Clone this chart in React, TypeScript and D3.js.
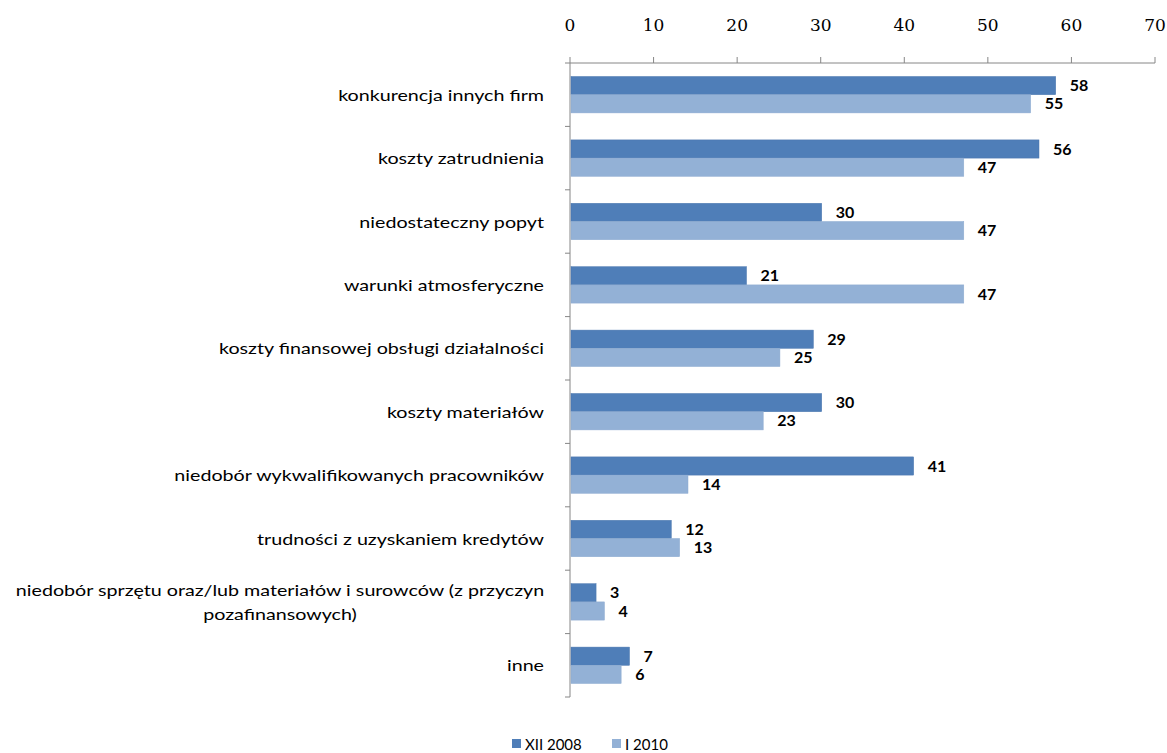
import React from "react";
import * as d3 from "d3";

const categories = [
  "konkurencja innych firm",
  "koszty zatrudnienia",
  "niedostateczny popyt",
  "warunki atmosferyczne",
  "koszty finansowej obsługi działalności",
  "koszty materiałów",
  "niedobór wykwalifikowanych pracowników",
  "trudności z uzyskaniem kredytów",
  "niedobór sprzętu oraz/lub materiałów i surowców (z przyczyn|pozafinansowych)",
  "inne",
];
const seriesXII2008 = [58, 56, 30, 21, 29, 30, 41, 12, 3, 7];
const seriesI2010 = [55, 47, 47, 47, 25, 23, 14, 13, 4, 6];
const seriesNames = ["XII 2008", "I 2010"];
const xTicks = [0, 10, 20, 30, 40, 50, 60, 70];

const colors = ["#4F7EB8", "#93B1D6"];
const W = 1167;
const H = 753;
const left = 570;
const right = 1155;
const top = 63;
const bottom = 697;
const labelFont = "Lato, 'Open Sans', sans-serif";
const tickFont = "'DejaVu Serif', 'Liberation Serif', serif";
const SX = 1.23;

function Stretch({ x, y, children }: { x: number; y: number; children: React.ReactNode }) {
  return <g transform={`translate(${x},${y}) scale(${SX},1)`}>{children}</g>;
}

export default function App() {
  const x = d3.scaleLinear().domain([0, 70]).range([left, right]);
  const y = d3
    .scaleBand<number>()
    .domain(d3.range(categories.length))
    .range([top, bottom])
    .paddingInner(27 / 63.4)
    .paddingOuter(13.5 / 63.4);
  const bw = y.bandwidth() / 2;
  const step = y.step();
  const series = [seriesXII2008, seriesI2010];

  return (
    <svg
      width={W}
      height={H}
      style={{ position: "absolute", left: 0, top: 0, background: "#fff" }}
    >
      {/* top axis */}
      <line x1={left} x2={right} y1={top} y2={top} stroke="#868686" strokeWidth={1} />
      {xTicks.map((t) => (
        <g key={t}>
          <line x1={x(t)} x2={x(t)} y1={top - 6} y2={top} stroke="#868686" />
          <text
            x={x(t)}
            y={31}
            textAnchor="middle"
            fontFamily={tickFont}
            fontSize={17}
            fill="#000"
          >
            {t}
          </text>
        </g>
      ))}
      {/* left axis */}
      <line x1={left} x2={left} y1={top} y2={bottom} stroke="#868686" />
      {d3.range(categories.length + 1).map((i) => {
        const yy = top + i * step;
        return <line key={i} x1={left - 5} x2={left} y1={yy} y2={yy} stroke="#868686" />;
      })}
      {/* bars */}
      {categories.map((c, i) =>
        series.map((s, k) => {
          const y0 = (y(i) as number) + k * bw;
          return (
            <g key={`${i}-${k}`}>
              <rect
                x={x(0) + 1}
                y={y0}
                width={x(s[i]) - x(0)}
                height={bw}
                fill={colors[k]}
                stroke={k === 0 ? "#4A76AE" : "#8CAAD0"}
                strokeWidth={0.5}
              />
              <text
                x={x(s[i]) + 15}
                y={y0 + bw / 2 + 5.5}
                fontFamily={labelFont}
                fontWeight="bold"
                fontSize={16}
                fill="#000"
              >
                {s[i]}
              </text>
            </g>
          );
        })
      )}
      {/* category labels */}
      {categories.map((c, i) => {
        const cy = (y(i) as number) + bw;
        const lines = c.split("|");
        if (lines.length === 1) {
          return (
            <Stretch key={c} x={544} y={cy + 6}>
              <text textAnchor="end" fontFamily={labelFont} fontSize={16} fill="#000">
                {c}
              </text>
            </Stretch>
          );
        }
        return (
          <Stretch key={c} x={280} y={cy}>
            <text textAnchor="middle" fontFamily={labelFont} fontSize={16} fill="#000">
              {lines.map((l, j) => (
                <tspan key={j} x={0} y={-6 + j * 24}>
                  {l}
                </tspan>
              ))}
            </text>
          </Stretch>
        );
      })}
      {/* legend */}
      {seriesNames.map((n, k) => {
        const lx = k === 0 ? 512 : 612;
        return (
          <g key={n}>
            <rect x={lx} y={739} width={9} height={9} fill={colors[k]} />
            <text x={lx + 13} y={750} fontFamily={labelFont} fontSize={15} fill="#000">
              {n}
            </text>
          </g>
        );
      })}
    </svg>
  );
}
